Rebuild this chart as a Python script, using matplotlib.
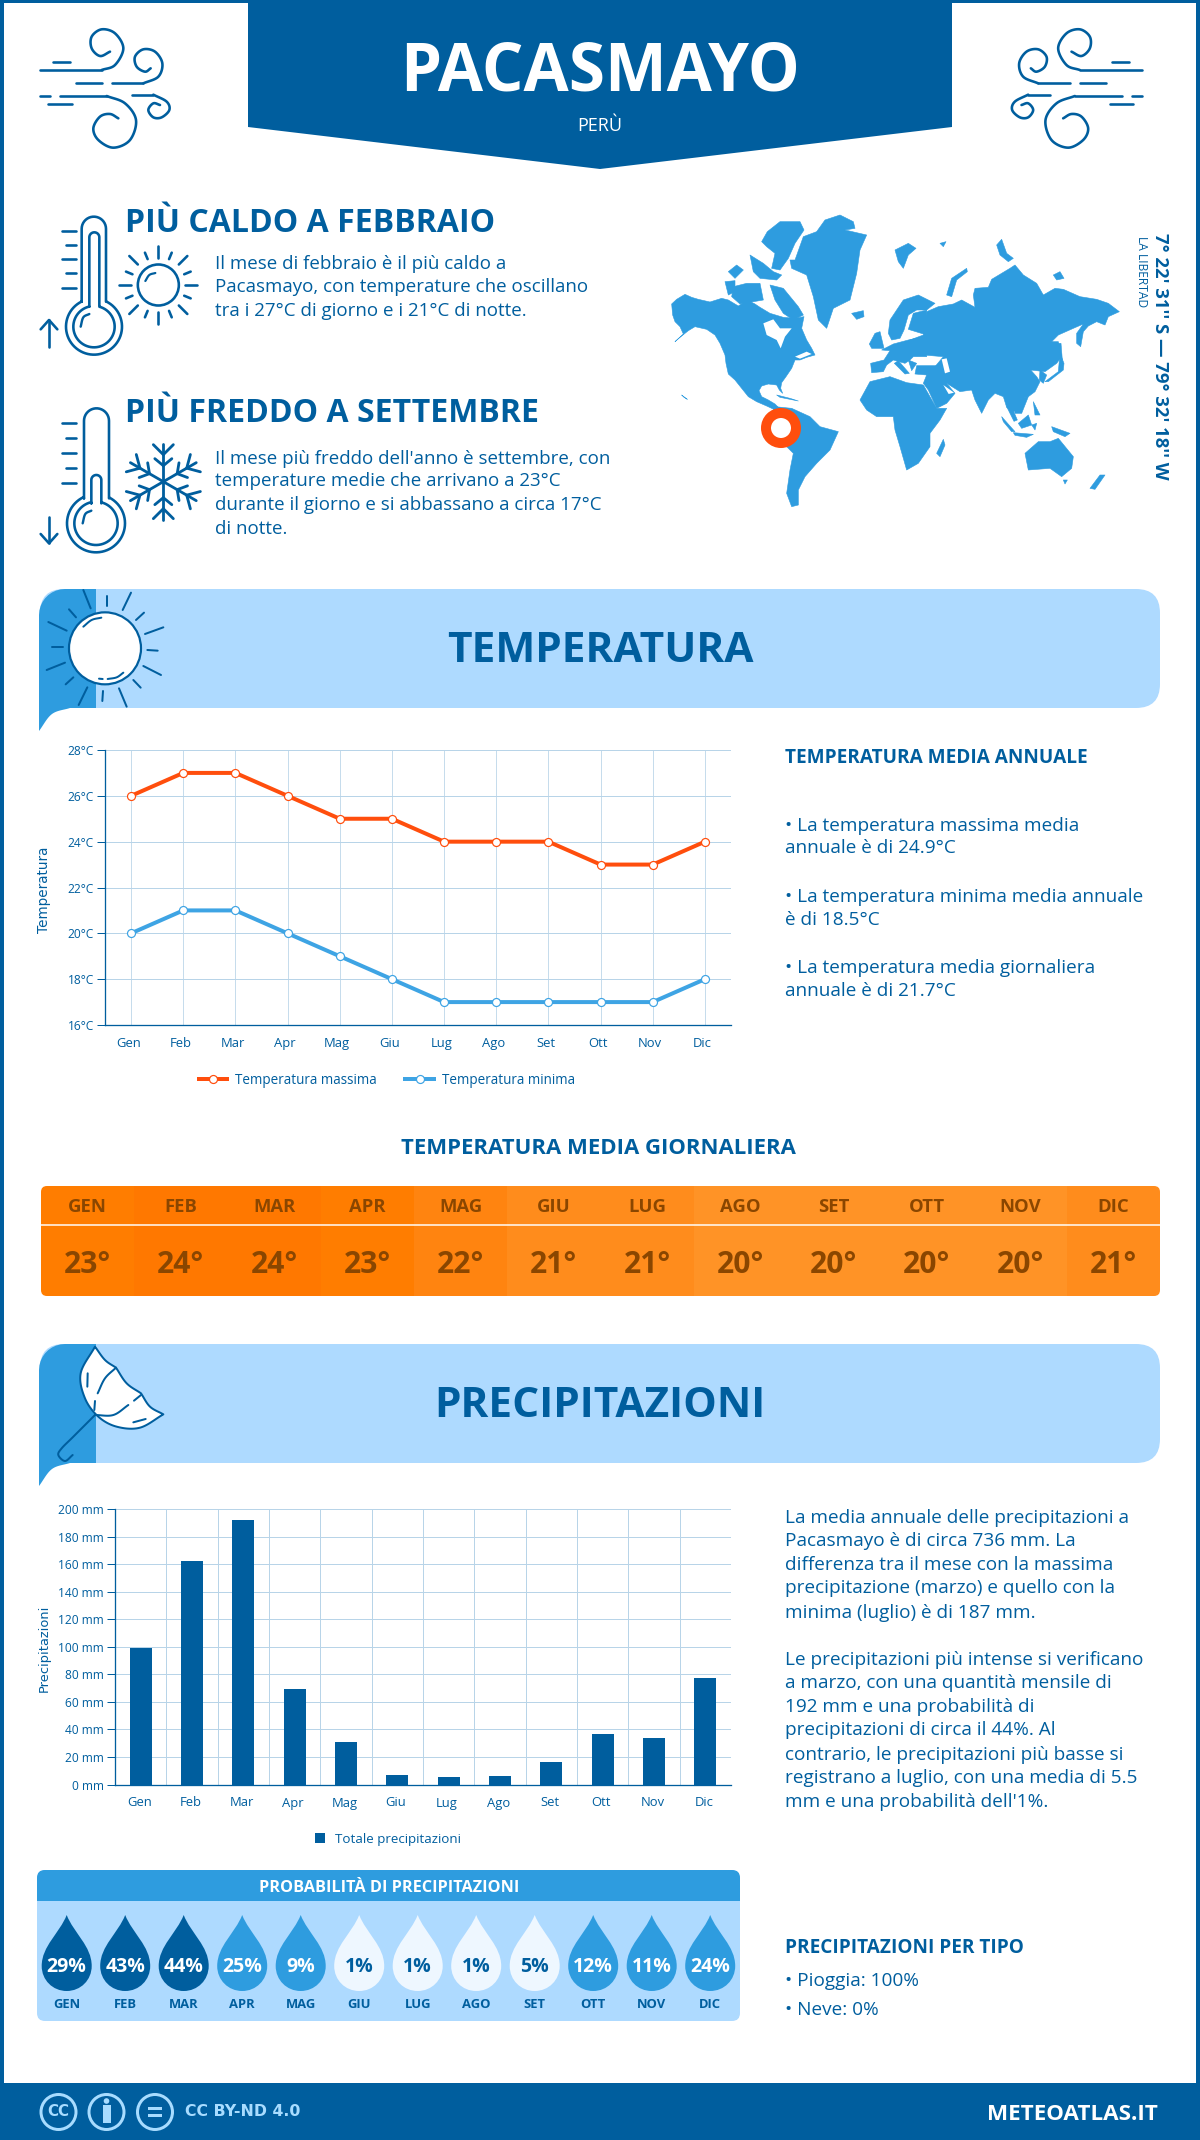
import numpy as np
import matplotlib
matplotlib.use("Agg")
import matplotlib.pyplot as plt
from matplotlib.patches import Polygon, Circle, Rectangle, FancyBboxPatch, PathPatch
from matplotlib.path import Path
from matplotlib.transforms import ScaledTranslation

plt.rcParams['font.family'] = ['Open Sans', 'DejaVu Sans']

# colori
DARK = '#005e9e'
MID = '#2e9cdf'
LINE_MIN = '#3ea4e4'
LIGHT = '#aedaff'
PALE = '#eef7ff'
RED = '#ff4e0d'
GRID = '#b8d4e8'
BROWN = '#8a4600'

# dati
months = ['Gen', 'Feb', 'Mar', 'Apr', 'Mag', 'Giu', 'Lug', 'Ago', 'Set', 'Ott', 'Nov', 'Dic']
temp_max = [26, 27, 27, 26, 25, 25, 24, 24, 24, 23, 23, 24]
temp_min = [20, 21, 21, 20, 19, 18, 17, 17, 17, 17, 17, 18]
temp_avg = [23, 24, 24, 23, 22, 21, 21, 20, 20, 20, 20, 21]
precip = [99, 162, 192, 69, 31, 7, 5.5, 6, 16, 37, 34, 77]
rain_prob = [29, 43, 44, 25, 9, 1, 1, 1, 5, 12, 11, 24]
temp_ticks = [16, 18, 20, 22, 24, 26, 28]
precip_ticks = list(range(0, 201, 20))
strip_colors = {24: '#ff7800', 23: '#ff7d00', 22: '#ff8410', 21: '#ff8c1c', 20: '#ff9326'}

# mappa del mondo, contorni ricalcati a mano (pezzi sovrapposti)
world = [
    # nord america
    [(35, 312), (50, 298), (75, 283), (95, 292), (115, 298), (150, 306), (185, 295), (205, 300), (235, 318), (262, 300),
     (285, 312), (300, 322), (330, 340), (370, 352), (405, 355), (432, 350), (425, 385), (440, 420), (455, 445), (465, 465),
     (440, 472), (420, 480), (405, 480), (395, 505), (378, 530), (365, 548), (362, 565), (368, 580), (358, 570), (350, 555),
     (325, 552), (305, 558), (297, 572), (305, 590), (325, 600), (345, 612), (355, 622), (372, 628), (395, 630), (380, 640),
     (350, 632), (320, 618), (290, 605), (265, 590), (245, 565), (225, 540), (205, 522), (198, 490), (195, 465), (180, 430),
     (165, 405), (140, 388), (105, 380), (85, 392), (60, 412), (45, 425), (70, 402), (60, 380), (45, 365), (38, 345)],
    # isole artiche
    [(322, 95), (360, 65), (420, 65), (432, 90), (405, 130), (385, 175), (360, 210), (335, 205), (345, 160), (320, 140), (305, 125)],
    [(330, 255), (370, 265), (415, 320), (430, 345), (400, 360), (370, 340), (345, 300)],
    [(220, 260), (260, 250), (300, 250), (310, 300), (240, 312), (215, 290)],
    [(270, 165), (310, 190), (340, 215), (365, 225), (350, 240), (300, 235), (280, 215)],
    [(205, 215), (230, 195), (250, 210), (225, 235)],
    [(195, 245), (225, 242), (225, 275), (205, 285)],
    # groenlandia e islanda
    [(405, 180), (430, 110), (470, 95), (495, 60), (540, 45), (580, 65), (585, 85), (555, 90), (620, 105), (600, 150),
     (590, 220), (570, 300), (520, 325), (500, 385), (475, 360), (460, 290), (440, 225), (395, 205), (390, 180)],
    [(575, 340), (610, 332), (612, 350), (590, 358)],
    # isole del nord
    [(705, 150), (745, 130), (768, 145), (745, 165), (730, 205), (715, 185)],
    [(840, 130), (858, 125), (850, 140)],
    [(1010, 135), (1025, 118), (1040, 160), (1060, 175), (1045, 185), (1020, 165)],
    [(1180, 225), (1200, 215), (1212, 235), (1190, 240)],
    [(860, 285), (875, 235), (920, 205), (922, 215), (890, 240), (875, 290)],
    # russia e asia
    [(800, 335), (835, 320), (880, 312), (905, 300), (945, 322), (940, 285), (945, 265), (985, 262), (995, 238), (1050, 205),
     (1065, 195), (1090, 225), (1130, 250), (1150, 285), (1185, 265), (1210, 268), (1260, 290), (1310, 298), (1345, 310),
     (1378, 335), (1345, 350), (1335, 375), (1310, 365), (1285, 378), (1270, 395), (1262, 440), (1250, 430), (1250, 400),
     (1270, 372), (1240, 385), (1195, 405), (1175, 425), (1195, 425), (1205, 470), (1190, 490), (1155, 515), (1112, 510),
     (1130, 530), (1140, 545), (1125, 575), (1105, 590), (1070, 600), (1080, 625), (1060, 635), (1040, 622), (1030, 590),
     (1005, 580), (985, 600), (965, 640), (945, 600), (935, 570), (900, 575), (860, 550), (885, 580), (860, 610), (830, 625),
     (805, 570), (790, 550), (800, 525), (825, 500), (850, 470), (790, 465), (760, 440), (750, 420), (790, 405)],
    # corea, indocina, malesia
    [(1140, 510), (1160, 525), (1150, 550), (1138, 540)],
    [(1060, 600), (1105, 590), (1085, 640), (1065, 640)],
    [(1040, 620), (1055, 620), (1072, 660), (1062, 664)],
    # europa
    [(632, 490), (672, 480), (690, 452), (665, 450), (700, 432), (745, 420), (790, 410), (800, 470), (760, 470), (750, 480),
     (735, 490), (700, 480), (680, 495), (670, 515), (635, 518)],
    [(715, 482), (748, 520), (735, 522), (703, 490)],
    [(745, 480), (770, 490), (755, 512)],
    [(770, 497), (830, 497), (850, 505), (800, 525), (765, 522)],
    # scandinavia
    [(685, 400), (690, 360), (730, 300), (775, 285), (825, 310), (800, 330), (770, 330), (745, 345), (732, 390), (720, 415), (695, 420)],
    [(760, 340), (800, 330), (800, 405), (745, 388)],
    [(645, 400), (660, 395), (672, 445), (635, 445), (628, 432)],
    # giappone e sakhalin
    [(1155, 545), (1195, 515), (1200, 460), (1212, 490), (1210, 510), (1165, 545)],
    [(1195, 430), (1203, 430), (1207, 480), (1198, 470)],
    # africa
    [(600, 600), (630, 545), (690, 530), (740, 548), (790, 555), (830, 625), (860, 625), (840, 660), (810, 700), (810, 740),
     (775, 790), (740, 810), (720, 740), (705, 690), (700, 650), (650, 650), (620, 630)],
    [(830, 760), (850, 718), (855, 735), (840, 770)],
    # sud america
    [(345, 620), (395, 625), (450, 650), (480, 680), (535, 695), (510, 750), (470, 790), (435, 830), (415, 870), (415, 915),
     (395, 920), (380, 880), (390, 810), (400, 760), (360, 720), (330, 680), (335, 640)],
    # oceania e indonesia
    [(1095, 760), (1135, 725), (1170, 725), (1195, 715), (1240, 770), (1235, 805), (1205, 830), (1170, 805), (1105, 810)],
    [(1290, 865), (1320, 825), (1335, 825), (1305, 868)],
    [(1210, 840), (1222, 840), (1215, 852)],
    [(1025, 650), (1065, 695), (1055, 695), (1030, 665)],
    [(1060, 698), (1120, 703), (1100, 712), (1065, 706)],
    [(1075, 670), (1105, 645), (1115, 675), (1085, 685)],
    [(1115, 675), (1130, 670), (1125, 690)],
    [(1175, 680), (1230, 700), (1215, 710), (1180, 695)],
    [(1120, 605), (1140, 645), (1125, 645)],
    [(350, 585), (390, 595), (415, 603), (360, 592)],
    [(65, 585), (82, 598), (72, 592)],
]
world_holes = [
    [(310, 370), (340, 358), (360, 385), (395, 385), (375, 410), (362, 445), (350, 420), (320, 405)],
    [(845, 478), (860, 475), (870, 515), (855, 520)],
    [(775, 478), (810, 472), (825, 485), (792, 495)],
    [(850, 555), (882, 578), (866, 582)],
    [(405, 470), (440, 455), (455, 462), (420, 476)],
]


def px(size):
    return size * 0.72


def smooth(pts, n=14):
    # catmull-rom sui punti dati
    p = np.array(pts, dtype=float)
    p = np.vstack([2 * p[0] - p[1], p, 2 * p[-1] - p[-2]])
    out = []
    for i in range(1, len(p) - 2):
        for t in np.linspace(0, 1, n, endpoint=False):
            out.append(0.5 * (2 * p[i] + (p[i + 1] - p[i - 1]) * t
                              + (2 * p[i - 1] - 5 * p[i] + 4 * p[i + 1] - p[i + 2]) * t ** 2
                              + (3 * p[i] - p[i - 1] - 3 * p[i + 1] + p[i + 2]) * t ** 3))
    out.append(p[-2])
    return np.array(out)


fig = plt.figure(figsize=(12, 21.4), dpi=100, facecolor='white')
bg = fig.add_axes([0, 0, 1, 1], zorder=0)
bg.set_xlim(0, 1200)
bg.set_ylim(2140, 0)
bg.axis('off')


def stroke(pts, lw=2.6, color=DARK, curve=False, z=3):
    a = smooth(pts) if curve else np.array(pts, dtype=float)
    bg.plot(a[:, 0], a[:, 1], color=color, lw=px(lw), solid_capstyle='round', solid_joinstyle='round', zorder=z)


def label(x, y, s, size, color=DARK, weight='normal', ha='left', **kw):
    # il centro del testo in matplotlib cade sopra quello delle maiuscole
    return bg.text(x, y + 0.07 * size, s, fontsize=px(size), color=color, fontweight=weight, ha=ha, va='center', zorder=6, **kw)


def rounded(x0, y0, x1, y1, r, color, z=1):
    p = FancyBboxPatch((x0 + r, y0 + r), x1 - x0 - 2 * r, y1 - y0 - 2 * r,
                       boxstyle=f'round,pad={r},rounding_size={r}', fc=color, ec='none', zorder=z)
    bg.add_patch(p)
    return p


# cornice e testata
for rect in [(0, 0, 4, 2140), (1196, 0, 4, 2140), (0, 0, 1200, 3)]:
    bg.add_patch(Rectangle(rect[:2], rect[2], rect[3], fc=DARK, ec='none', zorder=1))
bg.add_patch(Polygon([(248, 0), (952, 0), (952, 127), (600, 169), (248, 127)], fc=DARK, ec='none', zorder=2))
label(600, 68, 'PACASMAYO', 65.5, 'white', 'bold', ha='center')
label(600, 125, 'PERÙ', 18, 'white', ha='center')


# vento
def wind(flip=False):
    def tr(pts):
        out = [(30 + x / 3, 20 + y / 3) for x, y in pts]
        return [(1181.5 - x, y) for x, y in out] if flip else out
    stroke(tr([(30, 150), (215, 150)]))
    stroke(tr([(215, 150), (255, 135), (280, 85), (255, 40), (215, 28), (185, 50), (185, 85), (210, 108), (240, 95)]), curve=True)
    stroke(tr([(68, 125), (120, 125)]))
    stroke(tr([(138, 190), (215, 190)]))
    stroke(tr([(245, 190), (340, 190)]))
    stroke(tr([(340, 190), (385, 170), (397, 130), (375, 95), (340, 88), (315, 110), (320, 140), (345, 155), (362, 145)]), curve=True)
    stroke(tr([(30, 228), (60, 228)]))
    stroke(tr([(90, 228), (230, 228)]))
    stroke(tr([(230, 228), (285, 250), (318, 300), (300, 360), (250, 383), (205, 360), (190, 325), (210, 290), (240, 282), (265, 295)]), curve=True)
    stroke(tr([(55, 252), (125, 252)]))
    stroke(tr([(305, 224), (370, 224)]))
    stroke(tr([(370, 224), (410, 245), (418, 270), (395, 292), (370, 292), (355, 270), (370, 250), (390, 255)]), curve=True)


wind()
wind(flip=True)


# termometri
def thermometer(ox, oy, sx0, sx1, top, neck, cx, cy, r, ix0, ix1, itop, ineck, ir, tick_ys, up):
    tr = lambda pts: [(ox + x / 3, oy + y / 3) for x, y in pts]
    th = np.linspace(np.pi, 0, 20)
    for x0, x1, t0, n0, rad in [(sx0, sx1, top, neck, r), (ix0, ix1, itop, ineck, ir)]:
        rs = (x1 - x0) / 2
        pts = [(x0, n0), (x0, t0 + rs)] + [(x0 + rs + rs * np.cos(t), t0 + rs - rs * np.sin(t)) for t in th] + [(x1, n0)]
        a_r = np.arctan2(n0 - cy, x1 - cx)
        a_l = np.arctan2(n0 - cy, x0 - cx)
        arc = np.linspace(a_r, a_l + (2 * np.pi if a_l < a_r else 0), 60)
        pts += [(cx + rad * np.cos(t), cy + rad * np.sin(t)) for t in arc] + [(x0, n0)]
        stroke(tr(pts))
    stroke(tr([(cx - 40, cy), (cx - 32, cy - 28), (cx - 14, cy - 38)]), 2.4, curve=True)
    for i, y in enumerate(tick_ys):
        stroke(tr([(97 if i % 2 == 0 else 108, y), (138, y)]))
    if up:
        stroke(tr([(57, 440), (57, 360)]))
        stroke(tr([(32, 388), (57, 360), (82, 388)]))
    else:
        stroke(tr([(57, 365), (57, 445)]))
        stroke(tr([(32, 417), (57, 445), (82, 417)]))


thermometer(30, 200, 155, 228, 50, 305, 192, 380, 84, 178, 208, 97, 320, 62, [93, 135, 178, 220, 263], True)
thermometer(30, 395, 162, 237, 40, 310, 198, 385, 87, 184, 214, 240, 325, 65, [85, 130, 174, 218, 263], False)

# sole piccolo
sun_c = (30 + 385 / 3, 200 + 255 / 3)
bg.add_patch(Circle(sun_c, 20.5, fc='none', ec=DARK, lw=px(2.6), zorder=3))
stroke([(sun_c[0] - 13, sun_c[1] - 4), (sun_c[0] - 9, sun_c[1] - 10), (sun_c[0] - 3, sun_c[1] - 12)], 2.2, curve=True)
for k in range(16):
    ang = k * np.pi / 8
    r0, r1 = (27, 39) if k % 4 == 0 else ((29, 41) if k % 4 == 2 else (28, 35))
    stroke([(sun_c[0] + r0 * np.cos(ang), sun_c[1] + r0 * np.sin(ang)),
            (sun_c[0] + r1 * np.cos(ang), sun_c[1] + r1 * np.sin(ang))])

# fiocco di neve
sc = np.array([30 + 400 / 3, 395 + 260 / 3])
for k in range(6):
    ang = -np.pi / 2 + k * np.pi / 3
    d = np.array([np.cos(ang), np.sin(ang)])
    n = np.array([-d[1], d[0]])
    stroke([sc, sc + 38 * d], 2.8)
    for base, tip, lat in [(16, 23, 8.5), (27, 37, 10)]:
        for side in (-1, 1):
            stroke([sc + base * d, sc + tip * d + side * lat * n], 2.8)

# testi in alto
label(125, 221, 'PIÙ CALDO A FEBBRAIO', 32, weight='bold')
for y, s in zip([263, 286, 310], ['Il mese di febbraio è il più caldo a',
                                  'Pacasmayo, con temperature che oscillano',
                                  'tra i 27°C di giorno e i 21°C di notte.']):
    label(215, y, s, 18.8)
label(125, 411, 'PIÙ FREDDO A SETTEMBRE', 32, weight='bold')
for y, s in zip([458, 480, 504, 528], ["Il mese più freddo dell'anno è settembre, con",
                                       'temperature medie che arrivano a 23°C',
                                       'durante il giorno e si abbassano a circa 17°C',
                                       'di notte.']):
    label(215, y, s, 18.8)

# mappa
for poly in world:
    bg.add_patch(Polygon([(660 + x / 3, 200 + y / 3) for x, y in poly], fc=MID, ec=MID, lw=0.4, joinstyle='round', zorder=2))
for poly in world_holes:
    bg.add_patch(Polygon([(660 + x / 3, 200 + y / 3) for x, y in poly], fc='white', ec='none', zorder=2.5))
bg.add_patch(Circle((781, 428), 15, fc='white', ec=RED, lw=px(10), zorder=4))
bg.text(1160, 356, "7° 22' 31'' S — 79° 32' 18'' W", fontsize=px(18.5), color=DARK, fontweight='bold',
        rotation=270, ha='center', va='center', zorder=6)
bg.text(1142, 236, 'LA LIBERTAD', fontsize=px(12), color=DARK, rotation=270, ha='center', va='top', zorder=6)


# bande di sezione
def band(y0, y1, title):
    rounded(40, y0, 1160, y1, 24, LIGHT, z=1)
    curl = smooth([(70, y1), (52, y1 + 6), (39, y1 + 23)])
    pts = [(39, y1 + 23), (39, y0 + 26)] + [(39 + 26 - 26 * np.cos(t), y0 + 26 - 26 * np.sin(t)) for t in np.linspace(0, np.pi / 2, 10)]
    pts += [(96, y0), (96, y1)] + [tuple(p) for p in curl]
    bg.add_patch(Polygon(pts, fc=MID, ec='none', zorder=1.5))
    label(600, (y0 + y1) / 2 + 0.5, title, 42.4, weight='bold', ha='center')


band(589, 708, 'TEMPERATURA')
band(1344, 1463, 'PRECIPITAZIONI')

# sole della banda
tr = lambda x, y: (30 + x / 3, 580 + y / 3)
bg.add_patch(Circle(tr(225, 205), 36, fc='white', ec=DARK, lw=px(2.2), zorder=3))
stroke([tr(160, 140), tr(185, 120), tr(214, 113)], 2, curve=True)
stroke([tr(233, 297), tr(260, 292), tr(280, 278)], 2, curve=True)
stroke([tr(207, 296), tr(218, 297)], 2)
for a, b in [((160, 30), (182, 85)), ((230, 47), (230, 78)), ((303, 38), (278, 90)), ((342, 98), (318, 120)),
             ((400, 142), (345, 162)), ((383, 212), (352, 210)), ((393, 285), (340, 258)), ((332, 323), (310, 300)),
             ((290, 380), (267, 325)), ((217, 363), (219, 333)), ((146, 375), (172, 322)), ((130, 292), (107, 313)),
             ((105, 248), (50, 270)), ((98, 200), (67, 200)), ((110, 152), (55, 126)), ((138, 112), (117, 88))]:
    stroke([tr(*a), tr(*b)], 2)

# ombrello
tr = lambda x, y: (30 + x / 3, 1335 + y / 3)
edge = np.vstack([smooth([tr(195, 35), tr(225, 75), tr(258, 98)]), smooth([tr(258, 98), tr(290, 145), tr(333, 175)]),
                  smooth([tr(333, 175), tr(360, 215), tr(400, 238)]),
                  smooth([tr(400, 238), tr(330, 278), tr(260, 275), tr(205, 245), tr(165, 190), tr(152, 115), tr(195, 35)])])
bg.add_patch(Polygon(edge, fc='white', ec=DARK, lw=px(2), joinstyle='round', zorder=3))
stroke([tr(195, 240), tr(130, 305), tr(95, 340), tr(85, 360), tr(105, 378), tr(128, 360)], 2, curve=True)
stroke([tr(173, 115), tr(172, 155)], 2)
stroke([tr(258, 98), tr(225, 130), tr(203, 175)], 2, curve=True)
stroke([tr(195, 198), tr(193, 225)], 2)
stroke([tr(195, 240), tr(250, 240), tr(295, 210)], 2, curve=True)
stroke([tr(312, 197), tr(333, 180)], 2)
stroke([tr(310, 262), tr(347, 252)], 2)


def chart_axes(x0, x1, y0, y1):
    ax = fig.add_axes([x0 / 1200, 1 - y1 / 2140, (x1 - x0) / 1200, (y1 - y0) / 2140], zorder=2)
    ax.patch.set_alpha(0)
    for side in ('top', 'right'):
        ax.spines[side].set_visible(False)
    for side in ('left', 'bottom'):
        ax.spines[side].set_color(DARK)
        ax.spines[side].set_linewidth(px(1.3))
    ax.set_axisbelow(True)
    ax.tick_params(axis='both', colors=DARK, labelsize=px(12), length=0)
    ax.tick_params(axis='y', length=px(8), width=px(1), direction='out', pad=px(3))
    ax.tick_params(axis='x', pad=px(12), labelsize=px(13))
    ax.grid(True, axis='y', color=GRID, lw=px(1))
    return ax


def shift_xlabels(ax, dx):
    for t in ax.get_xticklabels():
        t.set_transform(t.get_transform() + ScaledTranslation(dx / 100, 0, fig.dpi_scale_trans))


# grafico temperatura
ax = chart_axes(105, 731, 750, 1025)
x = np.arange(12)
ax.plot(x, temp_max, color=RED, lw=px(4), marker='o', ms=px(8), mfc='white', mec=RED, mew=px(1.2), label='Temperatura massima', clip_on=False)
ax.plot(x, temp_min, color=LINE_MIN, lw=px(4), marker='o', ms=px(8), mfc='white', mec=LINE_MIN, mew=px(1.2), label='Temperatura minima', clip_on=False)
ax.set_xlim(-0.5, 11.5)
ax.set_ylim(16, 28)
ax.set_yticks(temp_ticks)
ax.set_yticklabels([f'{v}°C' for v in temp_ticks])
ax.set_xticks(x)
ax.set_xticklabels(months)
shift_xlabels(ax, -2.5)
ax.grid(True, axis='x', color=GRID, lw=px(0.8))
ax.set_ylabel('Temperatura', color=DARK, fontsize=px(13.5), family='DejaVu Sans')
ax.yaxis.set_label_coords((51 - 105) / 626, 0.49)
ax.legend(loc='center', bbox_to_anchor=(387, 1080), bbox_transform=bg.transData, ncol=2, frameon=False,
          fontsize=px(13.5), handlelength=2.1, handletextpad=0.6, columnspacing=2.1, labelcolor=DARK, borderpad=0)

# striscia temperatura media giornaliera
label(598, 1147, 'TEMPERATURA MEDIA GIORNALIERA', 22.2, weight='bold', ha='center')
clip = rounded(41, 1186, 1160, 1296, 6, 'none', z=0)
cw = (1160 - 41) / 12
for i, (m, t) in enumerate(zip(months, temp_avg)):
    r = Rectangle((41 + i * cw, 1186), cw + 0.5, 110, fc=strip_colors[t], ec='none', zorder=2)
    bg.add_patch(r)
    r.set_clip_path(clip)
    label(41 + (i + 0.5) * cw, 1206, m.upper(), 18.5, BROWN, 'bold', ha='center')
    label(41 + (i + 0.5) * cw, 1263, f'{t}°', 30, BROWN, 'bold', ha='center')
bg.plot([41, 1160], [1225, 1225], color='white', lw=px(1.5), zorder=3)

# testi temperatura
label(785, 757, 'TEMPERATURA MEDIA ANNUALE', 19, weight='bold')
for y, s in zip([825, 847, 896, 919, 967, 990],
                ['• La temperatura massima media', 'annuale è di 24.9°C',
                 '• La temperatura minima media annuale', 'è di 18.5°C',
                 '• La temperatura media giornaliera', 'annuale è di 21.7°C']):
    label(785, y, s, 19)

# grafico precipitazioni
ax2 = chart_axes(115, 731, 1509, 1784.5)
ax2.bar(x, precip, width=0.43, color=DARK, label='Totale precipitazioni', zorder=3)
ax2.set_xlim(-0.5, 11.5)
ax2.set_ylim(0, 200)
ax2.set_yticks(precip_ticks)
ax2.set_yticklabels([f'{v} mm' for v in precip_ticks])
ax2.set_xticks(x)
ax2.set_xticklabels(months)
shift_xlabels(ax2, -1.5)
ax2.set_xticks(np.arange(-0.5, 12), minor=True)
ax2.tick_params(axis='x', which='minor', length=0)
ax2.grid(True, axis='x', which='minor', color=GRID, lw=px(1))
ax2.set_ylabel('Precipitazioni', color=DARK, fontsize=px(13), family='DejaVu Sans')
ax2.yaxis.set_label_coords((51 - 115) / 616, 0.495)
ax2.legend(loc='center', bbox_to_anchor=(388, 1839), bbox_transform=bg.transData, frameon=False,
           fontsize=px(13.4), handlelength=0.75, handleheight=0.75, handletextpad=0.7, labelcolor=DARK, borderpad=0)

for y, s in zip([1516.5, 1539.5, 1563.5, 1587, 1611.5, 1658.5, 1682, 1706, 1729, 1753.5, 1777, 1801],
                ['La media annuale delle precipitazioni a', 'Pacasmayo è di circa 736 mm. La',
                 'differenza tra il mese con la massima', 'precipitazione (marzo) e quello con la',
                 'minima (luglio) è di 187 mm.',
                 'Le precipitazioni più intense si verificano', 'a marzo, con una quantità mensile di',
                 '192 mm e una probabilità di', 'precipitazioni di circa il 44%. Al',
                 'contrario, le precipitazioni più basse si', 'registrano a luglio, con una media di 5.5',
                 "mm e una probabilità dell'1%."]):
    label(785, y, s, 19)

# probabilita
rounded(37, 1870, 740, 2021, 8, LIGHT, z=1)
rounded(37, 1870, 740, 1920, 8, MID, z=1.2)
bg.add_patch(Rectangle((37, 1901), 703, 22, fc=LIGHT, ec='none', zorder=1.3))
label(389, 1887, 'PROBABILITÀ DI PRECIPITAZIONI', 16.2, 'white', 'bold', ha='center')
for i, (m, p) in enumerate(zip(months, rain_prob)):
    cx = 66.7 + i * 58.5
    if p > 25:
        fc, tc = DARK, 'white'
    elif p > 5:
        fc, tc = MID, 'white'
    else:
        fc, tc = PALE, DARK
    r, cy, tip = 25, 1966, 1915
    verts = [(cx, tip), (cx + 7, tip + 18), (cx + r, cy - 20), (cx + r, cy),
             (cx + r, cy + 14), (cx + 14, cy + r), (cx, cy + r),
             (cx - 14, cy + r), (cx - r, cy + 14), (cx - r, cy),
             (cx - r, cy - 20), (cx - 7, tip + 18), (cx, tip), (cx, tip)]
    codes = [Path.MOVETO] + [Path.CURVE4] * 12 + [Path.CLOSEPOLY]
    bg.add_patch(PathPatch(Path(verts, codes), fc=fc, ec='none', zorder=3))
    label(cx, 1966, f'{p}%', 19.5, tc, 'bold', ha='center')
    label(cx, 2004, m.upper(), 13, DARK, 'bold', ha='center')

label(785, 1947, 'PRECIPITAZIONI PER TIPO', 19, weight='bold')
label(785, 1980, '• Pioggia: 100%', 19)
label(785, 2009, '• Neve: 0%', 19)

# piede
bg.add_patch(Rectangle((0, 2083), 1200, 57, fc=DARK, ec='none', zorder=5))
CC = '#a8dcff'
for cx in [58.5, 106.5, 155]:
    bg.add_patch(Circle((cx, 2112), 17.5, fc='none', ec=CC, lw=px(3), zorder=6))
bg.text(58.5, 2112, 'CC', fontsize=px(15), color=CC, fontweight='bold', family='DejaVu Sans', ha='center', va='center', zorder=7)
bg.add_patch(Circle((106.5, 2101), 2.8, fc=CC, ec='none', zorder=7))
bg.add_patch(Rectangle((102.5, 2105), 8, 18, fc=CC, ec='none', zorder=7))
for y in (2108.5, 2115):
    bg.add_patch(Rectangle((148, y - 1.5), 14, 3, fc=CC, ec='none', zorder=7))
bg.text(185, 2112, 'CC BY-ND 4.0', fontsize=px(15.7), color=CC, fontweight='bold', family='DejaVu Sans', va='center', zorder=7)
bg.text(1158, 2114, 'METEOATLAS.IT', fontsize=px(22.4), color='white', fontweight='bold', ha='right', va='center', zorder=7)

fig.savefig('out.png', dpi=100, facecolor='white')
